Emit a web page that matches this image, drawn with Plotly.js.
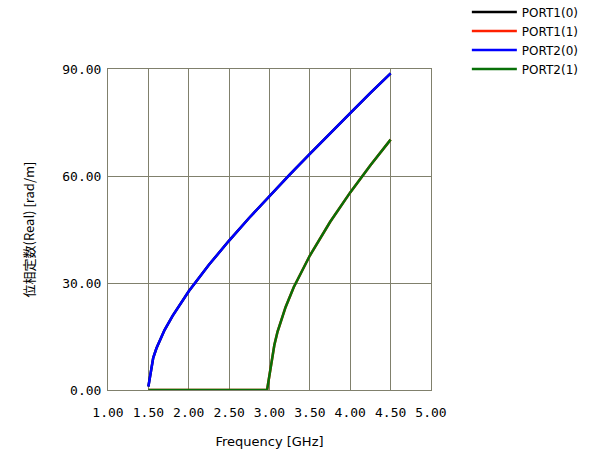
<!DOCTYPE html>
<html>
<head>
<meta charset="utf-8">
<script src="https://cdn.plot.ly/plotly-3.0.1.min.js"></script>
<style>html,body{margin:0;padding:0;background:#fff;}#chart{width:591px;height:468px;}</style>
</head>
<body>
<div id="chart"></div>
<script>
// Frequency samples [GHz] and phase constants [rad/m]
const freqMode1 = [1.5, 1.56, 1.6, 1.7, 1.8, 2.0, 2.25, 2.5, 2.75, 3.0, 3.25, 3.5, 3.75, 4.0, 4.25, 4.5];
const betaMode1 = [1.0, 9.0, 11.7, 16.8, 20.8, 27.7, 35.1, 41.9, 48.3, 54.4, 60.4, 66.2, 72.0, 77.6, 83.3, 88.8];
const freqMode2 = [1.5, 2.0, 2.5, 2.97, 3.06, 3.1, 3.2, 3.3, 3.5, 3.75, 4.0, 4.25, 4.5];
const betaMode2 = [0, 0, 0, 0, 12.6, 16.4, 23.3, 28.8, 37.7, 47.1, 55.4, 63.0, 70.2];
const seriesNames = ["PORT1(0)", "PORT1(1)", "PORT2(0)", "PORT2(1)"];
const seriesColors = ["#000000", "#ff2000", "#0000ff", "#087008"];
const xTickVals = [1.0, 1.5, 2.0, 2.5, 3.0, 3.5, 4.0, 4.5, 5.0];
const xTickText = ["1.00", "1.50", "2.00", "2.50", "3.00", "3.50", "4.00", "4.50", "5.00"];
const yTickVals = [0, 30, 60, 90];
const yTickText = ["0.00", "30.00", "60.00", "90.00"];

const xs = [freqMode1, freqMode2, freqMode1, freqMode2];
const ys = [betaMode1, betaMode2, betaMode1, betaMode2];
const traces = seriesNames.map((n, i) => ({
  x: xs[i], y: ys[i], name: n, type: "scatter", mode: "lines",
  line: {color: seriesColors[i], width: 2.5}
}));

const gridC = "#80806c";
const monoFont = {family: "DejaVu Sans Mono, monospace", size: 13, color: "#000"};
const layout = {
  width: 591, height: 468,
  margin: {l: 108, r: 160, t: 69, b: 78, autoexpand: false},
  paper_bgcolor: "#fff", plot_bgcolor: "#fff",
  showlegend: true,
  legend: {x: 1.111, y: 1.223, xanchor: "left", yanchor: "top",
    font: {family: "DejaVu Sans, sans-serif", size: 12, color: "#000"},
    itemwidth: 45, tracegroupgap: 0, bgcolor: "rgba(0,0,0,0)"},
  xaxis: {range: [1, 5], tickvals: xTickVals, ticktext: xTickText,
    showgrid: true, gridcolor: gridC, gridwidth: 1, zeroline: false,
    showline: true, linecolor: gridC, linewidth: 1, mirror: true,
    ticks: "outside", ticklen: 10, tickcolor: "rgba(0,0,0,0)", tickfont: monoFont,
    title: {text: "Frequency [GHz]", font: {family: "DejaVu Sans, sans-serif", size: 13, color: "#000"}, standoff: 18}},
  yaxis: {range: [0, 90], tickvals: yTickVals, ticktext: yTickText,
    showgrid: true, gridcolor: gridC, gridwidth: 1, zeroline: false,
    showline: true, linecolor: gridC, linewidth: 1, mirror: true,
    ticks: "outside", ticklen: 3, tickcolor: "rgba(0,0,0,0)", tickfont: monoFont,
    title: {text: "位相定数(Real) [rad/m]", font: {family: "Noto Sans CJK JP, sans-serif", size: 13, color: "#000"}, standoff: 24}}
};
Plotly.newPlot("chart", traces, layout, {displayModeBar: false, staticPlot: true});
</script>
</body>
</html>
